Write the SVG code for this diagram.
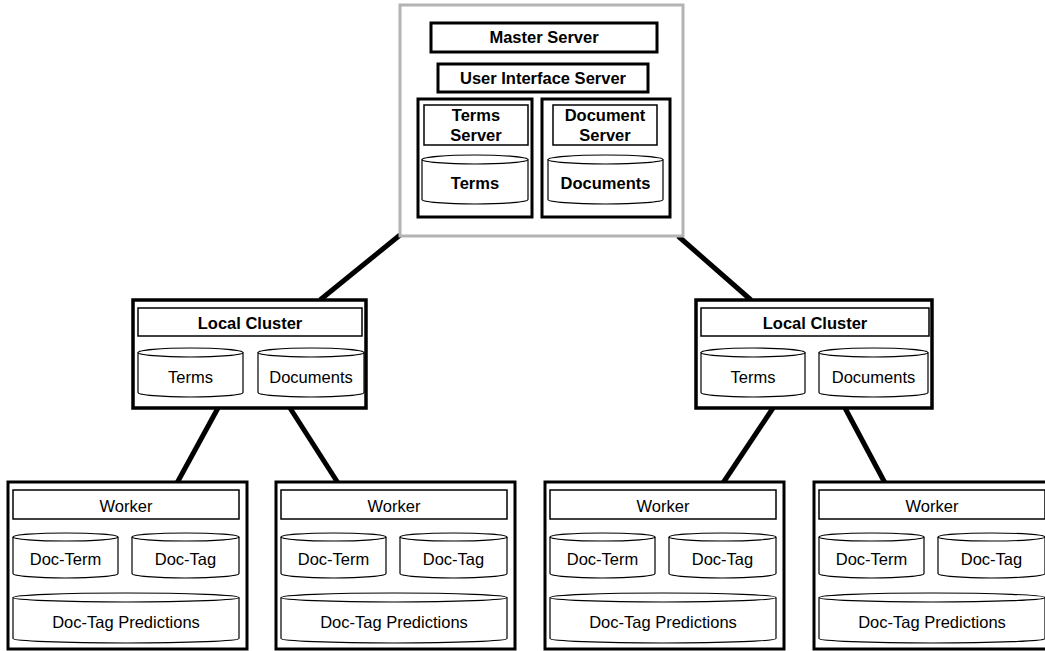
<svg xmlns="http://www.w3.org/2000/svg" width="1045" height="651" viewBox="0 0 1045 651">
<style>
.bg{fill:#fff}
.outer{fill:#fff;stroke:#000;stroke-width:3.5}
.gray{fill:#fff;stroke:#b3b3b3;stroke-width:3}
.thick{fill:#fff;stroke:#000;stroke-width:3}
.thin{fill:#fff;stroke:#000;stroke-width:1.5}
.cyl{fill:#fff;stroke:#000;stroke-width:1.2}
.cylt{fill:none;stroke:#000;stroke-width:1.2}
.conn{stroke:#000;stroke-width:5;fill:none}
text{font-family:"Liberation Sans",Arial,sans-serif;font-size:16.5px;text-anchor:middle;fill:#000}
.b{font-weight:bold}
</style>
<rect class="bg" x="0" y="0" width="1045" height="651"/>
<g id="connectors">
<line class="conn" x1="400" y1="235" x2="320" y2="300"/>
<line class="conn" x1="678" y1="236" x2="751" y2="300"/>
<line class="conn" x1="218" y1="408" x2="177" y2="483"/>
<line class="conn" x1="290" y1="408" x2="338" y2="483"/>
<line class="conn" x1="773" y1="408" x2="723" y2="483"/>
<line class="conn" x1="845" y1="408" x2="885" y2="483"/>
</g>
<g id="master">
<rect class="gray" x="400" y="5" width="283" height="231"/>
<rect class="thick" x="431" y="23" width="226" height="29"/>
<text class="b" x="544" y="43">Master Server</text>
<rect class="thick" x="438" y="64" width="210" height="28"/>
<text class="b" x="543" y="84">User Interface Server</text>
<g id="terms-server">
<rect class="thick" x="418" y="99" width="114" height="118"/>
<rect class="thin" x="424" y="105" width="104" height="40"/>
<text class="b" x="476" y="121">Terms</text>
<text class="b" x="476" y="141">Server</text>
<path class="cyl" d="M422,159.5 A53,4.5 0 0 1 528,159.5 V199.5 A53,4.5 0 0 1 422,199.5 Z"/>
<path class="cylt" d="M422,159.5 A53,4.5 0 0 0 528,159.5"/>
<text class="b" x="475" y="189">Terms</text>
</g>
<g id="document-server">
<rect class="thick" x="542" y="99" width="128" height="118"/>
<rect class="thin" x="553" y="105" width="104" height="40"/>
<text class="b" x="605" y="121">Document</text>
<text class="b" x="605" y="141">Server</text>
<path class="cyl" d="M548,159.5 A57.5,4.5 0 0 1 663,159.5 V199.5 A57.5,4.5 0 0 1 548,199.5 Z"/>
<path class="cylt" d="M548,159.5 A57.5,4.5 0 0 0 663,159.5"/>
<text class="b" x="605.5" y="189">Documents</text>
</g>
</g>
<g id="cluster-left" transform="translate(133,0)">
<rect class="outer" x="0" y="300" width="233" height="108"/>
<rect class="thin" x="5" y="308" width="224" height="28"/>
<text class="b" x="117" y="329">Local Cluster</text>
<path class="cyl" d="M5,352.5 A52.5,4.5 0 0 1 110,352.5 V392.5 A52.5,4.5 0 0 1 5,392.5 Z"/>
<path class="cylt" d="M5,352.5 A52.5,4.5 0 0 0 110,352.5"/>
<text x="57.5" y="383">Terms</text>
<path class="cyl" d="M125,352.5 A53,4.5 0 0 1 231,352.5 V392.5 A53,4.5 0 0 1 125,392.5 Z"/>
<path class="cylt" d="M125,352.5 A53,4.5 0 0 0 231,352.5"/>
<text x="178" y="383">Documents</text>
</g>
<g id="cluster-right" transform="translate(696,0)">
<rect class="outer" x="0" y="300" width="236" height="108"/>
<rect class="thin" x="5" y="308" width="228" height="28"/>
<text class="b" x="119" y="329">Local Cluster</text>
<path class="cyl" d="M5,352.5 A52,4.5 0 0 1 109,352.5 V392.5 A52,4.5 0 0 1 5,392.5 Z"/>
<path class="cylt" d="M5,352.5 A52,4.5 0 0 0 109,352.5"/>
<text x="57" y="383">Terms</text>
<path class="cyl" d="M123,352.5 A54.5,4.5 0 0 1 232,352.5 V392.5 A54.5,4.5 0 0 1 123,392.5 Z"/>
<path class="cylt" d="M123,352.5 A54.5,4.5 0 0 0 232,352.5"/>
<text x="177.5" y="383">Documents</text>
</g>
<defs>
<g id="worker-shape">
<rect class="thick" x="0" y="482" width="239" height="167"/>
<rect class="thin" x="5" y="490" width="226" height="29"/>
<text x="118" y="512">Worker</text>
<path class="cyl" d="M5,537 A52.5,4 0 0 1 110,537 V573.5 A52.5,4.5 0 0 1 5,573.5 Z"/>
<path class="cylt" d="M5,537 A52.5,4 0 0 0 110,537"/>
<text x="57.5" y="565">Doc-Term</text>
<path class="cyl" d="M124,537 A53.5,4 0 0 1 231,537 V573.5 A53.5,4.5 0 0 1 124,573.5 Z"/>
<path class="cylt" d="M124,537 A53.5,4 0 0 0 231,537"/>
<text x="177.5" y="565">Doc-Tag</text>
<path class="cyl" d="M5,597.5 A113,4.5 0 0 1 231,597.5 V638.5 A113,4.5 0 0 1 5,638.5 Z"/>
<path class="cylt" d="M5,597.5 A113,4.5 0 0 0 231,597.5"/>
<text x="118" y="628">Doc-Tag Predictions</text>
</g>
</defs>
<g id="worker-1"><use href="#worker-shape" x="8" y="0"/></g>
<g id="worker-2"><use href="#worker-shape" x="276" y="0"/></g>
<g id="worker-3"><use href="#worker-shape" x="545" y="0"/></g>
<g id="worker-4"><use href="#worker-shape" x="814" y="0"/></g>
</svg>
